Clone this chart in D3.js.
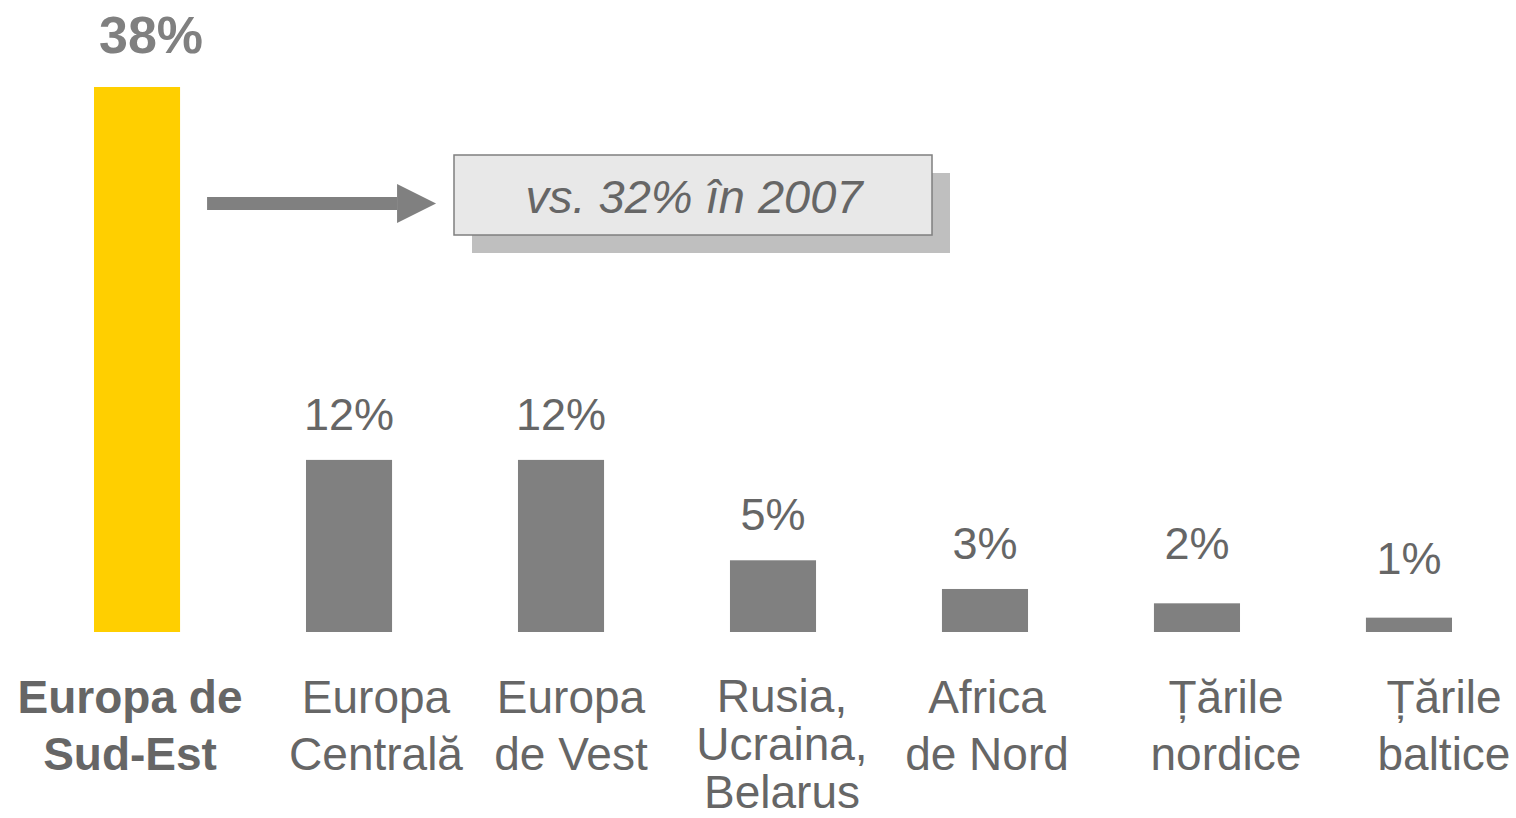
<!DOCTYPE html>
<html lang="ro">
	<head>
		<meta charset="utf-8">
		<title>Europa de Sud-Est</title>
		<script src="https://d3js.org/d3.v7.min.js"></script>
		<style>
			body { margin: 0; background: #fff; }
			text { font-family: "Liberation Sans", Arial, sans-serif; }
		</style>
	</head>
	<body>
		<script type="text/javascript">

			// Data
			var categories = ["Europa de Sud-Est", "Europa Centrală", "Europa de Vest", "Rusia, Ucraina, Belarus", "Africa de Nord", "Țările nordice", "Țările baltice"];
			var categoryLines = [["Europa de", "Sud-Est"], ["Europa", "Centrală"], ["Europa", "de Vest"], ["Rusia,", "Ucraina,", "Belarus"], ["Africa", "de Nord"], ["Țările", "nordice"], ["Țările", "baltice"]];
			var values = [38, 12, 12, 5, 3, 2, 1];
			var highlight = "Europa de Sud-Est";
			var note = "vs. 32% în 2007";

			// layout: small nudges for the category text boxes
			var labelDx = [-7, 27, 10, 9, 2, 29, 35];

			var w = 1516;
			var h = 818;

			var xScale = d3.scaleBand().domain(categories).range([94, 1452]).paddingInner(0.594).paddingOuter(0);
			var yScale = d3.scaleLinear().domain([0, 38]).range([632, 87]);

			var svg = d3.select("body").append("svg").attr("width", w).attr("height", h);

			// bars
			svg.selectAll("rect.bar").data(values).enter().append("rect")
				.attr("class", "bar")
				.attr("x", (d, i) => xScale(categories[i]))
				.attr("y", d => yScale(d))
				.attr("width", xScale.bandwidth())
				.attr("height", d => yScale(0) - yScale(d))
				.attr("fill", (d, i) => categories[i] == highlight ? "#ffcf00" : "#808080");

			// value labels
			svg.selectAll("text.val").data(values).enter().append("text")
				.attr("class", "val")
				.attr("x", (d, i) => xScale(categories[i]) + xScale.bandwidth() / 2 + (categories[i] == highlight ? 14 : 0))
				.attr("y", d => yScale(d) - (d < 3 ? 44 : 30) - (d > 30 ? 4 : 0))
				.attr("text-anchor", "middle")
				.attr("font-size", (d, i) => categories[i] == highlight ? "52px" : "45px")
				.attr("font-weight", (d, i) => categories[i] == highlight ? "bold" : "normal")
				.attr("fill", (d, i) => categories[i] == highlight ? "#808080" : "#666666")
				.text(d => d + "%");

			// category labels
			var cat = svg.selectAll("text.cat").data(categoryLines).enter().append("text")
				.attr("class", "cat")
				.attr("text-anchor", "middle")
				.attr("font-size", "46px")
				.attr("font-weight", (d, i) => categories[i] == highlight ? "bold" : "normal")
				.attr("fill", "#666666");
			cat.each(function(lines, i) {
				var cx = xScale(categories[i]) + xScale.bandwidth() / 2 + labelDx[i];
				var three = lines.length > 2;
				var lh = three ? 48 : 57;
				var y0 = three ? 712 : 713;
				d3.select(this).selectAll("tspan").data(lines).enter().append("tspan")
					.attr("x", cx)
					.attr("y", (l, j) => y0 + j * lh)
					.text(l => l);
			});

			// arrow from the highlighted bar to the note
			var ax = xScale(highlight) + xScale.bandwidth() + 27;
			var ay = 203.5;
			svg.append("rect").attr("x", ax).attr("y", ay - 6.5).attr("width", 190).attr("height", 13).attr("fill", "#808080");
			svg.append("path")
				.attr("d", `M${ax + 190},${ay - 19.5} L${ax + 229},${ay} L${ax + 190},${ay + 19.5} Z`)
				.attr("fill", "#808080");

			// note box with shadow
			var bx = 454, by = 155, bw = 478, bh = 80;
			svg.append("rect").attr("x", bx + 18).attr("y", by + 18).attr("width", bw).attr("height", bh).attr("fill", "#bfbfbf");
			svg.append("rect").attr("x", bx).attr("y", by).attr("width", bw).attr("height", bh)
				.attr("fill", "#e8e8e8").attr("stroke", "#7f7f7f").attr("stroke-width", 1.5);
			svg.append("text")
				.attr("x", bx + bw / 2 + 1).attr("y", by + 58)
				.attr("text-anchor", "middle")
				.attr("font-size", "47px")
				.attr("font-style", "italic")
				.attr("fill", "#666666")
				.text(note);

		</script>
	</body>
</html>
